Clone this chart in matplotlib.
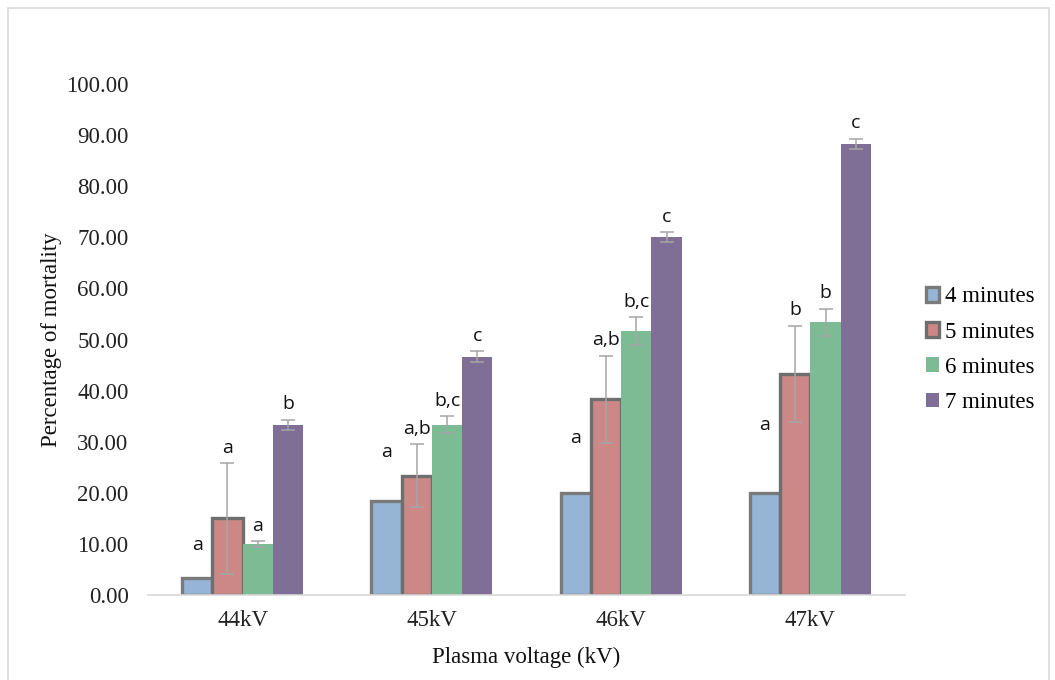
import matplotlib.pyplot as plt
import numpy as np
from matplotlib.patches import Rectangle

voltages = ["44kV", "45kV", "46kV", "47kV"]
series = ["4 minutes", "5 minutes", "6 minutes", "7 minutes"]

mort_4 = [3.33, 18.33, 20.00, 20.00]
mort_5 = [15.00, 23.33, 38.33, 43.33]
mort_6 = [10.00, 33.33, 51.67, 53.33]
mort_7 = [33.33, 46.67, 70.00, 88.33]

err_4 = [3.5, 6.7, 7.7, 10.3]   # not visible in the original (white bars)
err_5 = [10.8, 6.2, 8.5, 9.4]
err_6 = [0.6, 1.7, 2.7, 2.7]
err_7 = [1.0, 1.0, 1.0, 1.0]

letters_4 = ["a", "a", "a", "a"]
letters_5 = ["a", "a,b", "a,b", "b"]
letters_6 = ["a", "b,c", "b,c", "b"]
letters_7 = ["b", "c", "c", "c"]

colors = ["#96b4d6", "#cc8886", "#7dbb94", "#7f6e95"]
edges = ["#7a7a7a", "#6e6e6e", "none", "none"]

plt.rcParams["font.family"] = ["Liberation Serif", "DejaVu Serif"]

fig = plt.figure(figsize=(10.55, 6.8), dpi=100)
ax = fig.add_axes([148 / 1055, 1 - 595 / 680, (905 - 148) / 1055, (595 - 84) / 680])

x = np.arange(len(voltages))
w = 0.16
all_vals = [mort_4, mort_5, mort_6, mort_7]
all_errs = [err_4, err_5, err_6, err_7]
all_letters = [letters_4, letters_5, letters_6, letters_7]

for i in range(4):
    pos = x + (i - 1.5) * w
    ax.bar(pos, all_vals[i], w, color=colors[i], edgecolor=edges[i],
           linewidth=2.4 if edges[i] != "none" else 0, label=series[i], zorder=2)
    if i > 0:
        ax.errorbar(pos, all_vals[i], yerr=all_errs[i], fmt="none", ecolor="#a6a6a6",
                    elinewidth=1.1, capsize=5, capthick=1.1, zorder=3)
    for p, v, e, t in zip(pos, all_vals[i], all_errs[i], all_letters[i]):
        ax.text(p, v + e + 3.0, t, ha="center", va="center", fontsize=14,
                family=["Open Sans", "DejaVu Sans"], color="#111111")

ax.set_xlim(-0.5, 3.5)
ax.set_ylim(0, 100)
ax.set_yticks(np.arange(0, 101, 10))
ax.set_yticklabels([f"{v:.2f}" for v in np.arange(0, 101, 10)])
ax.set_xticks(x)
ax.set_xticklabels(voltages)
ax.tick_params(axis="both", length=0, labelsize=16.5, colors="#222222")
ax.tick_params(axis="y", pad=14)
ax.tick_params(axis="x", pad=11)
for s in ["top", "right", "left"]:
    ax.spines[s].set_visible(False)
ax.spines["bottom"].set_color("#d9d9d9")
ax.spines["bottom"].set_linewidth(1.2)

ax.set_ylabel("Percentage of mortality", fontsize=16.5, labelpad=3, color="#111111")
ax.set_xlabel("Plasma voltage (kV)", fontsize=16.5, labelpad=11, color="#111111")

leg = ax.legend(loc="center left", bbox_to_anchor=(1.0, 0.48), frameon=False,
                fontsize=16.5, handlelength=0.6, handleheight=0.6, handletextpad=0.25,
                labelspacing=0.62)

fig.patches.append(Rectangle((8 / 1055, -0.01), (1049 - 8) / 1055, 1.01 - 8 / 680,
                             transform=fig.transFigure, fill=False,
                             edgecolor="#d9d9d9", linewidth=1.2))

fig.savefig("out.png", dpi=100)
